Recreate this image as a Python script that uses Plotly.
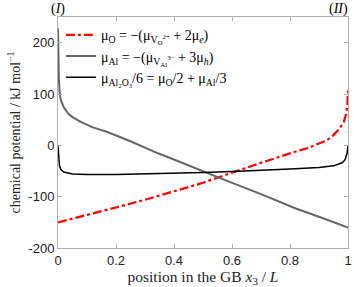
import plotly.graph_objects as go

# mu_O (red dash-dot)
x_O = [0, 0.1, 0.2, 0.3, 0.4, 0.5, 0.55, 0.61, 0.7, 0.82, 0.857, 0.925, 0.95, 0.97, 0.985, 0.993, 0.998, 1.0]
y_O = [-150, -136, -121, -106, -90, -73, -63, -51, -34, -12, -6, 9, 20, 32, 45, 60, 80, 107]

# mu_Al (gray)
x_Al = [0, 0.001, 0.003, 0.006, 0.01, 0.02, 0.035, 0.05, 0.08, 0.12, 0.166, 0.25, 0.347, 0.415, 0.51, 0.55, 0.7, 0.82, 0.9, 1.0]
y_Al = [228, 180, 130, 100, 88, 74, 62, 55, 45, 35, 27, 8, -16, -31, -53, -62, -95, -123, -139, -160]

# mu_Al2O3 / 6 (black)
x_A = [0, 0.002, 0.005, 0.01, 0.02, 0.05, 0.1, 0.2, 0.3, 0.4, 0.5, 0.6, 0.7, 0.8, 0.9, 0.95, 0.98, 0.99, 0.997, 1.0]
y_A = [0, -25, -40, -47, -52, -56, -57, -57, -56, -55, -53, -51, -49, -46, -43, -40, -34, -28, -15, 0]

x_ticks = [0, 0.2, 0.4, 0.6, 0.8, 1]
x_tick_labels = ["0", "0.2", "0.4", "0.6", "0.8", "1"]
y_ticks = [-200, -100, 0, 100, 200]
y_tick_labels = ["-200", "-100", "0", "100", "200"]

serif = "Liberation Serif"
sans = "Liberation Sans"

fig = go.Figure()
fig.add_trace(go.Scatter(
    x=x_O, y=y_O, mode="lines", line=dict(color="#ff0000", width=2.2, dash="dashdot"),
    name="μ<sub>O</sub> = −(μ<sub>V<sub>O</sub><sup>2+</sup></sub> + 2μ<sub><i>e</i></sub>)"))
fig.add_trace(go.Scatter(
    x=x_Al, y=y_Al, mode="lines", line=dict(color="#666666", width=2),
    name="μ<sub>Al</sub> = −(μ<sub>V<sub>Al</sub><sup>3−</sup></sub> + 3μ<sub><i>h</i></sub>)"))
fig.add_trace(go.Scatter(
    x=x_A, y=y_A, mode="lines", line=dict(color="#000000", width=1.5),
    name="μ<sub>Al₂O₃</sub>/6 = μ<sub>O</sub>/2 + μ<sub>Al</sub>/3"))

fig.update_layout(
    width=354, height=287,
    margin=dict(l=58, r=2, t=17, b=39),
    paper_bgcolor="white", plot_bgcolor="white",
    showlegend=True,
    legend=dict(x=0.01, y=0.99, xanchor="left", yanchor="top",
                bgcolor="rgba(255,255,255,0)", font=dict(family=serif, size=14, color="#000"),
                tracegroupgap=0, itemwidth=30),
    annotations=[
        dict(x=0, y=1, xref="paper", yref="paper", text="(<i>I</i>)", showarrow=False,
             xanchor="center", yanchor="bottom", yshift=-2, font=dict(family=serif, size=14, color="#000")),
        dict(x=1, y=1, xref="paper", yref="paper", text="(<i>II</i>)", showarrow=False,
             xanchor="right", yanchor="bottom", yshift=-2, xshift=2, font=dict(family=serif, size=14, color="#000")),
    ],
)
fig.update_xaxes(range=[0, 1], tickvals=x_ticks, ticktext=x_tick_labels,
                 showgrid=False, zeroline=False, showline=True, linecolor="#b0b0b0", linewidth=1,
                 mirror="ticks", ticks="inside", ticklen=4, tickcolor="#b0b0b0",
                 ticklabeloverflow="allow",
                 tickfont=dict(family=sans, size=13, color="#222"),
                 title=dict(text="position in the GB <i>x</i><sub>3</sub> / <i>L</i>",
                            font=dict(family=serif, size=15.5, color="#222"), standoff=1))
fig.update_yaxes(range=[-200, 250], tickvals=y_ticks, ticktext=y_tick_labels,
                 showgrid=False, zeroline=False, showline=True, linecolor="#b0b0b0", linewidth=1,
                 mirror="ticks", ticks="inside", ticklen=4, tickcolor="#b0b0b0",
                 tickfont=dict(family=sans, size=13, color="#222"),
                 title=dict(text="chemical potential / kJ mol<sup>−1</sup>",
                            font=dict(family=serif, size=14, color="#222"), standoff=4))

fig.write_html("out.html", config={"displayModeBar": False},
               post_script="document.body.style.margin='0';document.body.style.overflow='hidden';")
